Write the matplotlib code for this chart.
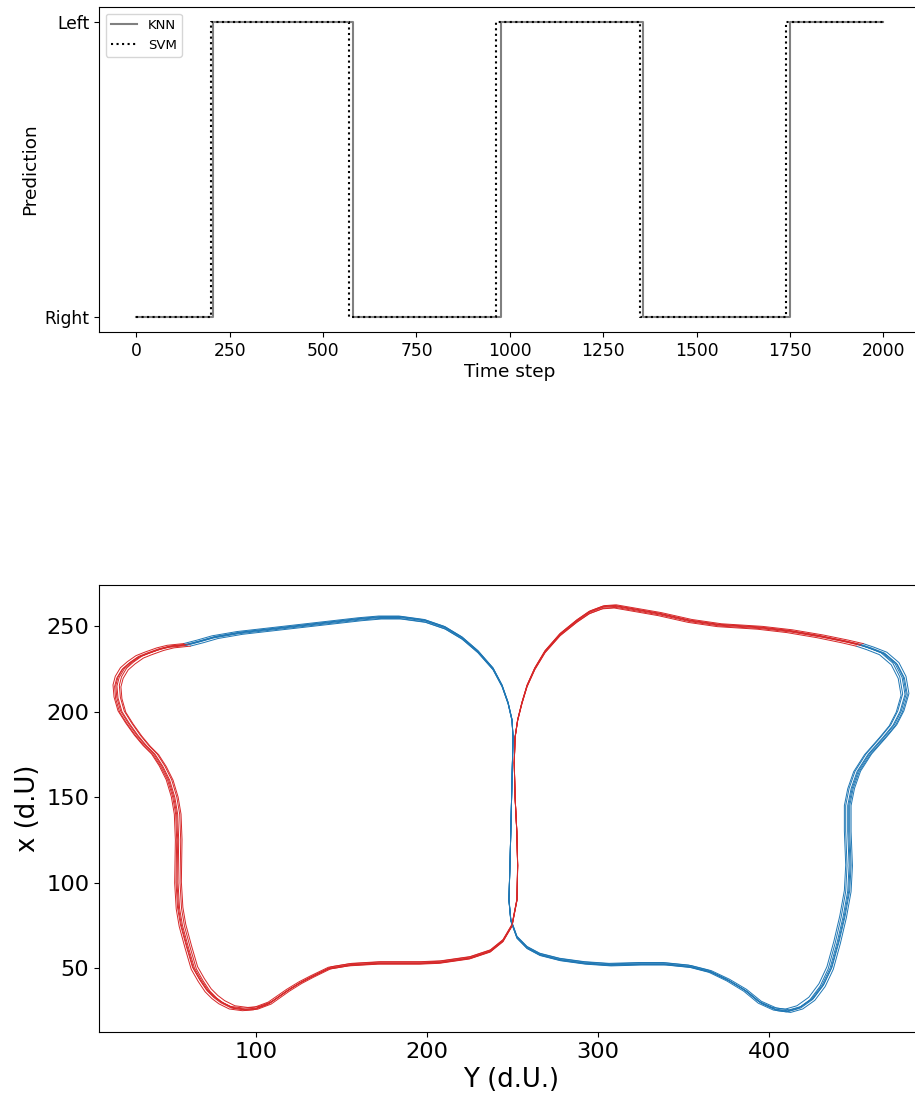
import matplotlib
matplotlib.use("Agg")
import matplotlib.pyplot as plt
import numpy as np

# --- top panel: predictions over time (0 = Right, 1 = Left)
knn_t = [0, 204, 581, 975, 1357, 1751, 2000]
knn_p = [0, 1, 0, 1, 0, 1, 1]
svm_t = [0, 201, 570, 963, 1349, 1739, 2000]
svm_p = [0, 1, 0, 1, 0, 1, 1]
pred_labels = ["Right", "Left"]

# --- bottom panel: traced trajectory (Y, x) of one cycle
red_y = [59.6, 50, 44, 37, 32, 27, 23, 20, 18.7, 19.3, 21.6, 26, 31, 36, 41, 45.5,
         49.5, 52.5, 54.2, 54.8, 54.4, 55.3, 57, 60.5, 64, 68, 72, 76, 80, 86, 93.6,
         100, 108, 113, 118.7, 126, 132.7, 143, 155, 172, 196, 207.6, 225, 237,
         244.4, 249.7, 252.6, 253, 252.5, 251.5, 251, 251.5, 253, 255.5, 258.5, 263,
         269, 277.8, 287.7, 295, 303, 310, 318.7, 336, 353.8, 371, 394.6, 412,
         429.8, 444.4, 453]
red_x = [239, 238, 236.5, 234, 232, 228.5, 225, 220, 215, 208, 200, 193, 186, 180,
         175, 168, 160, 150, 140, 125, 100, 85, 75, 62, 50, 43, 37, 33, 30, 27, 26,
         26.5, 29.5, 33, 37, 41.5, 45, 50, 52, 53, 53, 53.5, 56, 60, 66, 75, 90, 110,
         130, 150, 170, 185, 195, 205, 215, 225, 235, 245, 253, 258, 261, 261.5, 260,
         257, 253, 250.5, 249, 247, 244, 241, 239]
blue_y = [453, 459, 466.7, 473.7, 477.8, 479.5, 476.6, 472.5, 466.7, 457.9, 451.5,
          448, 446, 446, 446.8, 446, 443.3, 439.8, 435.7, 431, 425, 418, 411, 403.5,
          394.6, 386, 376, 365.5, 353.8, 339, 324.6, 307, 292.4, 277.8, 266, 258.5,
          252.6, 249, 247.9, 248.5, 249, 249.7, 250.3, 249.7, 247.4, 243.9, 238.6,
          229.8, 220.5, 210.5, 198.8, 184.2, 172.5, 160.8, 143.3, 125.7, 108.2, 90.6,
          76, 67.3, 59.6]
blue_x = [239, 237, 234, 228, 220, 210, 200, 192, 185, 175, 165, 155, 145, 130, 110,
          95, 80, 65, 50, 40, 32, 27, 25, 26, 30, 37, 43, 48, 51, 52.5, 52.5, 52, 53,
          55, 58, 62, 68, 78, 90, 110, 130, 160, 185, 195, 205, 215, 225, 235, 243,
          249, 253, 255, 255, 254, 252, 250, 248, 246, 243.5, 241, 239]
# small loop-to-loop spread (scale about the crossing point)
loop_sx = [1.0, 1.006, 0.994, 1.01, 0.99, 1.003]
loop_sy = [1.0, 0.995, 1.005, 1.008, 0.992, 1.003]
center = (250, 145)

fig = plt.figure(figsize=(9.15, 10.99), dpi=100)

# top axes
ax1 = fig.add_axes([0.1082, 0.6979, 0.898, 0.2957])
ax1.step(knn_t, knn_p, where="post", color="gray", lw=1.5, label="KNN")
ax1.step(svm_t, svm_p, where="post", color="black", lw=1.5, ls=":", label="SVM")
ax1.set_xlim(-100, 2100)
ax1.set_ylim(-0.05, 1.05)
ax1.set_xticks([0, 250, 500, 750, 1000, 1250, 1500, 1750, 2000])
ax1.set_yticks([0, 1])
ax1.set_yticklabels(pred_labels)
ax1.tick_params(labelsize=12.3)
ax1.set_xlabel("Time step", fontsize=13.3, labelpad=2)
ax1.set_ylabel("Prediction", fontsize=13.3)
ax1.legend(loc="upper left", fontsize=9.5)

# bottom axes
ax2 = fig.add_axes([0.1082, 0.06097, 0.9005, 0.4067])
for sx, sy in zip(loop_sx, loop_sy):
    ry = center[0] + (np.array(red_y) - center[0]) * sx
    rx = center[1] + (np.array(red_x) - center[1]) * sy
    by = center[0] + (np.array(blue_y) - center[0]) * sx
    bx = center[1] + (np.array(blue_x) - center[1]) * sy
    ax2.plot(by, bx, color="#1f77b4", lw=0.7)
    ax2.plot(ry, rx, color="#d62728", lw=0.7)
ax2.set_xlim(8.2, 490)
ax2.set_ylim(12.6, 274)
ax2.set_xticks([100, 200, 300, 400])
ax2.set_yticks([50, 100, 150, 200, 250])
ax2.tick_params(labelsize=16.2)
ax2.set_xlabel("Y (d.U.)", fontsize=18.7)
ax2.set_ylabel("x (d.U)", fontsize=18.7)

fig.savefig("out.png", dpi=100)
